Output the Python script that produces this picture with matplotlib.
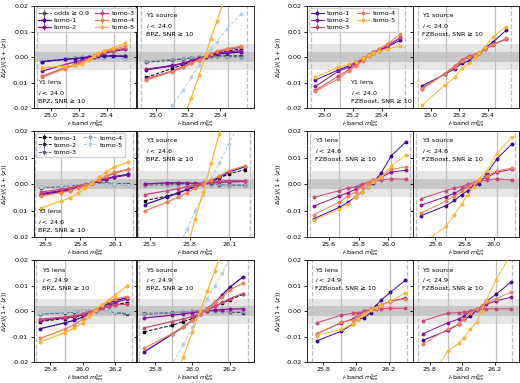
import matplotlib
matplotlib.use("Agg")
import matplotlib.pyplot as plt

plt.rcParams["font.family"] = "DejaVu Sans"
FS = 4.6
plt.rcParams["font.size"] = FS

TOMO = ["tomo-1", "tomo-2", "tomo-3", "tomo-4", "tomo-5"]
PLASMA = ["#41049d", "#8f0da4", "#cc4778", "#f0804f", "#fdb42f"]
BONE = ["#000000", "#2b2b45", "#5a6478", "#8fa4b4", "#b4cde0"]
BPZ_ERR = [0.0003, 0.0003, 0.0003, 0.0004, 0.0008]

# magnitude bins
X_Y1 = [24.94, 25.10, 25.17, 25.22, 25.27, 25.31, 25.34, 25.38, 25.44, 25.53]
X_Y3_BPZ = [25.46, 25.63, 25.71, 25.78, 25.84, 25.90, 25.96, 26.02, 26.09, 26.21]
X_Y3_FZB = [25.50, 25.67, 25.73, 25.78, 25.82, 25.86, 25.90, 25.95, 26.02, 26.12]
X_Y5_BPZ = [25.74, 25.89, 25.95, 26.00, 26.04, 26.08, 26.12, 26.16, 26.20, 26.27]
X_Y5_FZB = [25.76, 25.91, 25.98, 26.01, 26.05, 26.09, 26.12, 26.15, 26.21, 26.30]

# ---- Y1 ----
Y1_LENS_BPZ = [
    [-0.0018, -0.0009, -0.0006, -0.0003, 0.0, 0.0002, 0.0003, 0.0004, 0.0004, 0.0003],
    [-0.0055, -0.003, -0.002, -0.0012, -0.0005, 0.0003, 0.0008, 0.0015, 0.0022, 0.0030],
    [-0.0075, -0.0042, -0.003, -0.0018, -0.0008, 0.0003, 0.001, 0.0018, 0.0025, 0.0035],
    [-0.008, -0.0045, -0.0032, -0.002, -0.0008, 0.0003, 0.0012, 0.0022, 0.003, 0.0043],
    [-0.0042, -0.0035, -0.0032, -0.0028, -0.0012, 0.0003, 0.0015, 0.0025, 0.0035, 0.0055],
]
Y1_LENS_BPZ_ODDS = [
    [-0.0018, -0.0009, -0.0005, -0.0002, 0.0001, 0.0003, 0.0004, 0.0005, 0.0005, 0.0004],
    [-0.0016, -0.0008, -0.0004, -0.0001, 0.0001, 0.0002, 0.0002, 0.0001, 0.0, -0.0002],
    [-0.0014, -0.0007, -0.0003, 0.0, 0.0002, 0.0002, 0.0001, 0.0, -0.0001, -0.0003],
    [-0.0012, -0.0006, -0.0003, 0.0, 0.0001, 0.0002, 0.0001, 0.0, -0.0001, -0.0002],
    [-0.0010, -0.0005, -0.0002, 0.0, 0.0001, 0.0001, 0.0, -0.0001, -0.0002, -0.0003],
]
Y1_SRC_BPZ = [
    [-0.005, -0.0035, -0.0025, -0.0015, -0.0006, 0.0002, 0.0008, 0.0012, 0.0015, 0.002],
    [-0.0048, -0.0033, -0.0024, -0.0014, -0.0005, 0.0003, 0.001, 0.0015, 0.002, 0.0025],
    [-0.0085, -0.0055, -0.0038, -0.0023, -0.001, 0.0003, 0.0013, 0.002, 0.003, 0.0038],
    [-0.009, -0.0058, -0.004, -0.0025, -0.001, 0.0003, 0.0014, 0.0023, 0.0033, 0.0043],
    [-0.060, -0.036, -0.024, -0.016, -0.007, 0.001, 0.007, 0.014, 0.025, 0.041],
]
Y1_SRC_BPZ_ODDS = [
    [-0.008, -0.0045, -0.003, -0.0018, -0.0007, 0.0003, 0.001, 0.0017, 0.0024, 0.0032],
    [-0.002, -0.0012, -0.0008, -0.0004, 0.0, 0.0002, 0.0004, 0.0005, 0.0005, 0.0005],
    [-0.0018, -0.001, -0.0006, -0.0003, 0.0, 0.0002, 0.0003, 0.0003, 0.0002, 0.0001],
    [-0.0016, -0.0009, -0.0005, -0.0002, 0.0, 0.0001, 0.0001, 0.0, -0.0001, -0.0002],
    [-0.030, -0.019, -0.013, -0.008, -0.003, 0.0005, 0.003, 0.006, 0.011, 0.017],
]
Y1_LENS_FZB = [
    [-0.009, -0.005, -0.0035, -0.002, -0.0005, 0.0008, 0.0017, 0.0025, 0.004, 0.0067],
    [-0.0115, -0.0055, -0.004, -0.0025, -0.0008, 0.0008, 0.0018, 0.0027, 0.0042, 0.0075],
    [-0.013, -0.0075, -0.005, -0.003, -0.001, 0.0008, 0.002, 0.003, 0.0048, 0.0077],
    [-0.0135, -0.0085, -0.0055, -0.0035, -0.0015, 0.0005, 0.0018, 0.003, 0.0052, 0.009],
    [-0.008, -0.004, -0.0028, -0.0018, -0.0005, 0.0008, 0.0015, 0.0022, 0.003, 0.0045],
]
Y1_SRC_FZB = [
    [-0.0113, -0.0068, -0.0045, -0.0025, -0.0015, 0.0005, 0.0015, 0.0035, 0.006, 0.0105],
    [-0.0125, -0.0065, -0.004, -0.0015, 0.0, 0.0008, 0.0015, 0.003, 0.005, 0.007],
    [-0.012, -0.0065, -0.0035, -0.001, 0.0005, 0.001, 0.0015, 0.003, 0.0048, 0.0072],
    [-0.0125, -0.0065, -0.004, -0.0015, 0.0, 0.0008, 0.0015, 0.003, 0.005, 0.0073],
    [-0.019, -0.011, -0.008, -0.0043, -0.0025, 0.0, 0.0015, 0.004, 0.008, 0.012],
]

# ---- Y3 ----
Y3_LENS_BPZ = [
    [-0.0040, -0.0028, -0.0022, -0.0012, -0.0004, 0.0003, 0.0012, 0.002, 0.0028, 0.0036],
    [-0.0036, -0.0025, -0.0018, -0.001, -0.0003, 0.0003, 0.001, 0.0018, 0.0026, 0.0034],
    [-0.003, -0.002, -0.0015, -0.0008, -0.0002, 0.0004, 0.0015, 0.0028, 0.0042, 0.0055],
    [-0.0045, -0.0032, -0.0025, -0.0015, -0.0005, 0.0005, 0.0017, 0.003, 0.0045, 0.0055],
    [-0.009, -0.0065, -0.0052, -0.0035, -0.0015, 0.0003, 0.0025, 0.0045, 0.0065, 0.0082],
]
Y3_LENS_BPZ_ODDS = [
    [-0.0043, -0.0030, -0.0024, -0.0012, -0.0005, 0.0003, 0.0012, 0.002, 0.0027, 0.0037],
    [-0.0015, -0.001, -0.0006, -0.0003, 0.0, 0.0003, 0.0004, 0.0003, 0.0002, 0.0],
    [-0.0012, -0.0008, -0.0005, -0.0002, 0.0001, 0.0003, 0.0003, 0.0001, -0.0001, -0.0003],
    [-0.0013, -0.0008, -0.0004, -0.0001, 0.0001, 0.0002, 0.0001, 0.0, -0.0002, -0.0004],
    [-0.001, -0.0006, -0.0003, 0.0, 0.0001, 0.0002, 0.0001, 0.0, -0.0001, -0.0002],
]
Y3_SRC_BPZ = [
    [-0.0078, -0.0048, -0.0035, -0.002, -0.001, 0.0, 0.0012, 0.0025, 0.0045, 0.0065],
    [0.0, 0.0005, 0.0005, 0.0004, 0.0003, 0.0003, 0.0004, 0.0006, 0.0008, 0.001],
    [-0.004, -0.0025, -0.0018, -0.001, -0.0003, 0.0003, 0.0008, 0.0012, 0.0013, 0.0012],
    [-0.0102, -0.0068, -0.005, -0.0032, -0.0015, 0.0, 0.0015, 0.003, 0.005, 0.0068],
    [-0.085, -0.052, -0.037, -0.024, -0.013, -0.003, 0.008, 0.019, 0.032, 0.052],
]
Y3_SRC_BPZ_ODDS = [
    [-0.0063, -0.0045, -0.0033, -0.002, -0.001, 0.0, 0.001, 0.0022, 0.0038, 0.0054],
    [0.0, 0.0002, 0.0003, 0.0002, 0.0001, 0.0, -0.0001, -0.0002, -0.0003, -0.0005],
    [-0.0005, -0.0003, -0.0001, 0.0, 0.0001, 0.0, -0.0001, -0.0002, -0.0003, -0.0004],
    [-0.0008, -0.0005, -0.0003, -0.0001, 0.0, 0.0001, 0.0, -0.0001, -0.0002, -0.0003],
    [-0.050, -0.032, -0.024, -0.017, -0.010, -0.004, 0.002, 0.008, 0.015, 0.027],
]
Y3_LENS_FZB = [
    [-0.013, -0.0088, -0.0068, -0.0048, -0.003, -0.001, 0.0005, 0.004, 0.0106, 0.016],
    [-0.0083, -0.0045, -0.0032, -0.002, -0.0005, 0.0005, 0.0015, 0.0025, 0.0045, 0.0052],
    [-0.005, -0.0025, -0.0015, -0.001, 0.0, 0.0005, 0.001, 0.0015, 0.002, 0.0018],
    [-0.0115, -0.0068, -0.0045, -0.003, -0.001, 0.0005, 0.0015, 0.0025, 0.0055, 0.0065],
    [-0.0135, -0.0095, -0.0075, -0.0048, -0.003, -0.001, 0.0008, 0.0025, 0.0068, 0.011],
]
Y3_SRC_FZB = [
    [-0.012, -0.0082, -0.0062, -0.004, -0.0025, -0.0005, 0.0002, 0.004, 0.0095, 0.015],
    [-0.008, -0.0048, -0.0035, -0.002, -0.0008, 0.0005, 0.0015, 0.0025, 0.0045, 0.0055],
    [-0.0055, -0.0025, -0.0015, -0.001, 0.0, 0.0005, 0.001, 0.0015, 0.002, 0.0015],
    [-0.011, -0.0065, -0.0045, -0.0028, -0.001, 0.0005, 0.0015, 0.003, 0.005, 0.006],
    [-0.023, -0.016, -0.0115, -0.0075, -0.004, -0.001, 0.002, 0.005, 0.0115, 0.0178],
]

# ---- Y5 ----
Y5_LENS_BPZ = [
    [-0.0068, -0.0045, -0.0035, -0.0022, -0.001, 0.0005, 0.0017, 0.0032, 0.0042, 0.0054],
    [-0.0036, -0.0025, -0.002, -0.0012, -0.0005, 0.0005, 0.0012, 0.0022, 0.0035, 0.0048],
    [-0.003, -0.0022, -0.0017, -0.001, -0.0003, 0.0005, 0.0012, 0.002, 0.0025, 0.0028],
    [-0.0106, -0.007, -0.0052, -0.003, -0.001, 0.0008, 0.0025, 0.004, 0.005, 0.0058],
    [-0.012, -0.0084, -0.0065, -0.0045, -0.002, 0.0005, 0.0025, 0.0045, 0.0065, 0.0098],
]
Y5_LENS_BPZ_ODDS = [
    [-0.004, -0.0028, -0.0022, -0.0015, -0.0006, 0.0003, 0.0013, 0.002, 0.0027, 0.0034],
    [-0.001, -0.0005, -0.0003, 0.0, 0.0002, 0.0003, 0.0002, 0.0, -0.0004, -0.0012],
    [-0.0012, -0.0004, 0.0, 0.0002, 0.0003, 0.0003, 0.0002, 0.0001, -0.0002, -0.0006],
    [-0.0008, -0.0003, 0.0, 0.0001, 0.0002, 0.0002, 0.0001, 0.0, -0.0002, -0.0004],
    [-0.0006, -0.0002, 0.0, 0.0001, 0.0002, 0.0002, 0.0002, 0.0001, 0.0, -0.0002],
]
Y5_SRC_BPZ = [
    [-0.016, -0.009, -0.0062, -0.0035, -0.001, 0.001, 0.0035, 0.0065, 0.0095, 0.0135],
    [-0.0026, -0.0015, -0.001, -0.0005, -0.0002, 0.0002, 0.0005, 0.0007, 0.0009, 0.001],
    [-0.0065, -0.004, -0.003, -0.002, -0.0008, 0.0005, 0.002, 0.0035, 0.005, 0.007],
    [-0.0145, -0.0088, -0.006, -0.0035, -0.0012, 0.001, 0.0035, 0.0058, 0.0085, 0.011],
    [-0.060, -0.030, -0.018, -0.008, 0.0, 0.008, 0.016, 0.024, 0.032, 0.046],
]
Y5_SRC_BPZ_ODDS = [
    [-0.008, -0.0055, -0.004, -0.0028, -0.001, 0.0008, 0.002, 0.0032, 0.0045, 0.0067],
    [-0.0012, -0.0006, -0.0003, 0.0, 0.0002, 0.0003, 0.0003, 0.0001, -0.0002, -0.0005],
    [-0.0008, -0.0004, -0.0002, 0.0, 0.0001, 0.0002, 0.0001, 0.0, -0.0001, -0.0002],
    [-0.001, -0.0005, -0.0002, 0.0, 0.0001, 0.0001, 0.0001, 0.0, 0.0, 0.0],
    [-0.039, -0.021, -0.013, -0.006, 0.0, 0.005, 0.010, 0.015, 0.021, 0.032],
]
Y5_LENS_FZB = [
    [-0.0116, -0.0078, -0.005, -0.003, -0.0025, -0.0005, 0.002, 0.0043, 0.0075, 0.0122],
    [-0.0088, -0.0045, -0.003, -0.0015, 0.0, 0.0008, 0.0015, 0.0025, 0.004, 0.0052],
    [-0.0045, -0.0015, -0.0007, -0.0005, 0.0, 0.0005, 0.0008, 0.001, 0.0012, 0.0012],
    [-0.009, -0.0042, -0.0035, -0.002, -0.0005, 0.0008, 0.0015, 0.0025, 0.0038, 0.0049],
    [-0.0095, -0.007, -0.005, -0.003, -0.0012, 0.0005, 0.0015, 0.0025, 0.004, 0.0073],
]
Y5_SRC_FZB = [
    [-0.0113, -0.0075, -0.005, -0.003, -0.002, 0.0005, 0.002, 0.004, 0.0067, 0.0115],
    [-0.0088, -0.0045, -0.003, -0.0018, 0.0, 0.001, 0.0018, 0.0028, 0.0042, 0.0055],
    [-0.0037, -0.0007, -0.0005, -0.0003, 0.0, 0.0005, 0.0008, 0.001, 0.001, 0.001],
    [-0.0128, -0.007, -0.005, -0.003, -0.0008, 0.001, 0.002, 0.0035, 0.005, 0.0075],
    [-0.031, -0.0157, -0.0125, -0.0103, -0.007, -0.0041, 0.0002, 0.0045, 0.0125, 0.0225],
]

XLABEL = r"$i$-band $m_{\rm lim}^{5\sigma}$"
YLABEL = r"$\Delta\langle z\rangle/(1+\langle z\rangle)$"


def setup_axes(ax, xlim, dashed, vlines, xticks):
    ax.axhspan(-0.005, 0.005, color="0.9", lw=0, zorder=0)
    ax.axhspan(-0.002, 0.002, color="0.78", lw=0, zorder=0)
    for v in vlines:
        ax.axvline(v, color="0.75", lw=0.9, zorder=0.5)
    for v in dashed:
        ax.axvline(v, color="0.75", lw=0.9, ls="--", zorder=0.5)
    ax.set_xlim(xlim)
    ax.set_ylim(-0.02, 0.02)
    ax.set_xticks(xticks)
    ax.set_yticks([-0.02, -0.01, 0.0, 0.01, 0.02])
    ax.tick_params(length=2.2, width=0.6, labelsize=FS, pad=1.5)
    for s in ax.spines.values():
        s.set_linewidth(0.6)
    ax.set_xlabel(XLABEL, fontsize=FS, labelpad=0)


def draw_tomo(ax, x, series, bpz):
    for i, y in enumerate(series):
        if bpz:
            ax.errorbar(x, y, yerr=BPZ_ERR[i], color=PLASMA[i], marker="o", ms=1.8,
                        lw=0.9, elinewidth=0.6, capsize=0, label=TOMO[i], zorder=3)
        else:
            ax.errorbar(x, y, yerr=0.0001, color=PLASMA[i], marker="o", ms=1.8,
                        lw=0.7, elinewidth=0.5, capsize=0, label=TOMO[i], zorder=3)


def draw_odds(ax, x, series):
    for i, y in enumerate(series):
        ax.errorbar(x, y, yerr=BPZ_ERR[i], color=BONE[i], marker="s", ms=1.6,
                    lw=0.7, ls="--", elinewidth=0.5, capsize=0, label=TOMO[i], zorder=2)


def add_legend(ax, handles, labels):
    ax.legend(handles, labels, ncol=2, loc="upper left", fontsize=FS,
              handlelength=2.0, columnspacing=1.0, labelspacing=0.25,
              handletextpad=0.5, borderpad=0.35, borderaxespad=0.3, framealpha=0.9)


fig = plt.figure(figsize=(5.2, 3.83), dpi=100)

# rows: (bottom, height) ; columns: (left, width) of the two sub-axes
ROWS = [(0.718, 0.266), (0.381, 0.277), (0.054, 0.266)]
LEFT_COL = [(0.0648, 0.1977), (0.2625, 0.2260)]
RIGHT_COL = [(0.590, 0.205), (0.795, 0.203)]

panels = [
    # row, col, survey, cut, code, x, xlim, dashed, vlines, xticks, lens, src, lens_odds, src_odds
    (0, LEFT_COL, "Y1", "24.0", "BPZ", X_Y1, (24.88, 25.61), (24.905, 25.565), (25.11, 25.45),
     [25.0, 25.2, 25.4], Y1_LENS_BPZ, Y1_SRC_BPZ, Y1_LENS_BPZ_ODDS, Y1_SRC_BPZ_ODDS),
    (0, RIGHT_COL, "Y1", "24.0", "FZBoost", X_Y1, (24.88, 25.62), (24.91, 25.565), (25.11, 25.45),
     [25.0, 25.2, 25.4], Y1_LENS_FZB, Y1_SRC_FZB, None, None),
    (1, LEFT_COL, "Y3", "24.6", "BPZ", X_Y3_BPZ, (25.40, 26.28), (25.41, 26.25), (25.63, 26.09),
     [25.5, 25.8, 26.1], Y3_LENS_BPZ, Y3_SRC_BPZ, Y3_LENS_BPZ_ODDS, Y3_SRC_BPZ_ODDS),
    (1, RIGHT_COL, "Y3", "24.6", "FZBoost", X_Y3_FZB, (25.45, 26.17), (25.47, 26.145), (25.67, 26.02),
     [25.6, 25.8, 26.0], Y3_LENS_FZB, Y3_SRC_FZB, None, None),
    (2, LEFT_COL, "Y5", "24.9", "BPZ", X_Y5_BPZ, (25.70, 26.33), (25.715, 26.30), (25.89, 26.19),
     [25.8, 26.0, 26.2], Y5_LENS_BPZ, Y5_SRC_BPZ, Y5_LENS_BPZ_ODDS, Y5_SRC_BPZ_ODDS),
    (2, RIGHT_COL, "Y5", "24.9", "FZBoost", X_Y5_FZB, (25.70, 26.35), (25.73, 26.31), (25.91, 26.21),
     [25.8, 26.0, 26.2], Y5_LENS_FZB, Y5_SRC_FZB, None, None),
]

for (row, col, survey, cut, code, x, xlim, dashed, vlines, xticks,
     lens, src, lens_odds, src_odds) in panels:
    bottom, height = ROWS[row]
    ax_l = fig.add_axes([col[0][0], bottom, col[0][1], height])
    ax_r = fig.add_axes([col[1][0], bottom, col[1][1], height], sharey=ax_l)
    bpz = code == "BPZ"
    for ax, data, odds, kind in [(ax_l, lens, lens_odds, "lens"), (ax_r, src, src_odds, "source")]:
        setup_axes(ax, xlim, dashed, vlines, xticks)
        if odds is not None:
            draw_odds(ax, x, odds)
        draw_tomo(ax, x, data, bpz)
        txt = f"{survey} {kind}\n$i$ < {cut}\n{code}, SNR ≥ 10"
        low = kind == "lens" and survey in ("Y1", "Y3") and (bpz or survey == "Y1")
        if low:
            tx = 0.41 if not bpz else 0.04
            ax.text(tx, 0.04, txt, transform=ax.transAxes, fontsize=FS,
                    va="bottom", ha="left", linespacing=1.55, zorder=5)
        else:
            ax.text(0.08, 0.93, txt, transform=ax.transAxes, fontsize=FS,
                    va="top", ha="left", linespacing=1.55, zorder=5)
    ax_r.tick_params(labelleft=False)
    ax_l.yaxis.set_major_formatter(matplotlib.ticker.FormatStrFormatter("%.2f"))
    ax_l.set_ylabel(YLABEL, fontsize=FS, labelpad=2)

    # legends
    if survey == "Y1" and bpz:
        h, l = ax_l.get_legend_handles_labels()
        dummy = ax_l.errorbar([], [], yerr=[], color="0.3", ls="--", marker="o", ms=1.8,
                              lw=0.8, elinewidth=0.5, label="odds ≥ 0.9")
        add_legend(ax_l, [dummy] + h[5:], ["odds ≥ 0.9"] + l[5:])
    elif survey == "Y3" and bpz:
        h, l = ax_l.get_legend_handles_labels()
        add_legend(ax_l, h[:5], l[:5])
    elif survey == "Y1":
        h, l = ax_l.get_legend_handles_labels()
        add_legend(ax_l, h, l)

fig.savefig("out.png", dpi=100)
